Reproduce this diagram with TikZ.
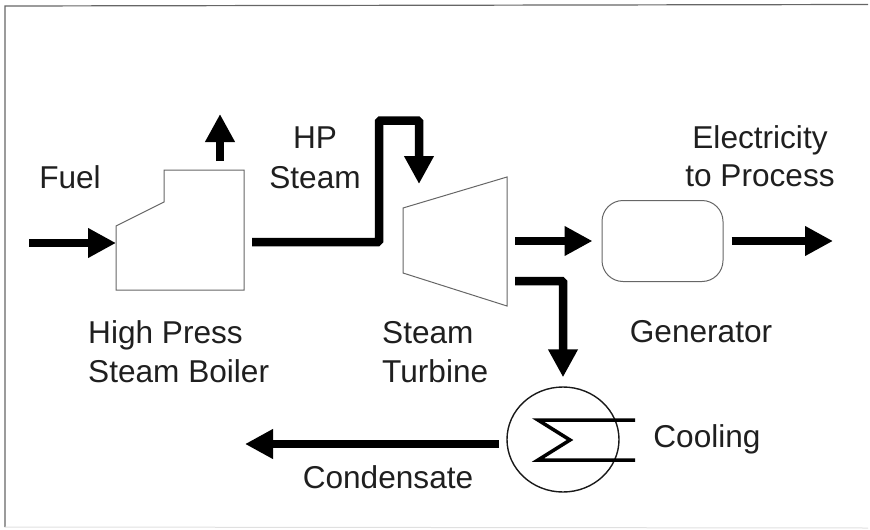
\documentclass[tikz,border=0pt]{standalone}
\usepackage{fontspec}
\setmainfont{Liberation Sans}
\usetikzlibrary{positioning, calc, arrows.meta, shapes}

\begin{document}
\begin{tikzpicture}[x=1pt, y=-1pt,
    unit/.style={draw=black!60, line width=1pt},
    flow/.style={draw=black, line width=8.5pt, rounded corners=1.5pt, -{Triangle[length=28pt, width=28pt]}},
    label/.style={font=\fontsize{31.6}{39}\selectfont, text=black!88, inner sep=0pt, anchor=base}]
  \useasboundingbox (0,0) rectangle (870,530);
  \draw[black!60, line width=1.2pt] (868,4.5) -- (5,6) -- (5,527);
  \draw[black!12, line width=1pt] (5,527) -- (868,528);

  \coordinate (fuelin) at (29,243);
  \coordinate (fuelout) at (116,243);
  \coordinate (stackin) at (220,161);
  \coordinate (stackout) at (220,114);
  \coordinate (steamin) at (252,242);
  \coordinate (steamout) at (419,184);
  \coordinate (shaftin) at (515,241);
  \coordinate (bleedin) at (515,281);
  \coordinate (elecout) at (833,241);
  \coordinate (condout) at (245,444);
  \coordinate (condin) at (499,444);

  \draw[unit] (116,226) -- (116,290) -- (244,290) -- (244,170) -- (164,170) -- (164,202) -- cycle;
  \draw[unit] (403,208) -- (507,177) -- (507,306) -- (403,273) -- cycle;

  \node[unit, rectangle, rounded corners=21pt, minimum width=121pt, minimum height=81pt, inner sep=0pt] (generator) at (662.5,241) {};
  \node[draw=black!90, line width=1.4pt, ellipse, minimum width=112pt, minimum height=105pt, inner sep=0pt] (condenser) at (563,439.5) {};

  \draw[flow] (fuelin) -- (fuelout);
  \draw[flow] (stackin) -- (stackout);
  \draw[flow] (steamin) -- (379,242) -- (379,120.5) -- (419,120.5) -- (steamout);
  \draw[flow, shorten >=9pt] (shaftin) -- (generator.west);
  \draw[flow, shorten <=8pt] (generator.east) -- (elecout);
  \draw[flow, shorten >=9pt] (bleedin) -- (563,281) -- (condenser.north);
  \draw[flow] (condin) -- (condout);

  \draw[black, line width=3.5pt, line join=miter] (635,420) -- (538,420) -- (570,440) -- (538,460) -- (635,460);

  \node[label] (fuel) at (70,188) {Fuel};
  \node[label] (hp) at (315,148) {HP};
  \node[label] (steam) at (315,188) {Steam};
  \node[label] (elec) at (760,148) {Electricity};
  \node[label] (process) at (760,186) {to Process};
  \node[label, anchor=base west] (high) at (88,343) {High Press};
  \node[label, anchor=base west] (boiler) at (88,382) {Steam Boiler};
  \node[label, anchor=base west] (steamtwo) at (382,343) {Steam};
  \node[label, anchor=base west] (turbine) at (382,382) {Turbine};
  \node[label] (gen) at (701,342) {Generator};
  \node[label] (cooling) at (707,447) {Cooling};
  \node[label] (condensate) at (388,488) {Condensate};
\end{tikzpicture}
\end{document}
